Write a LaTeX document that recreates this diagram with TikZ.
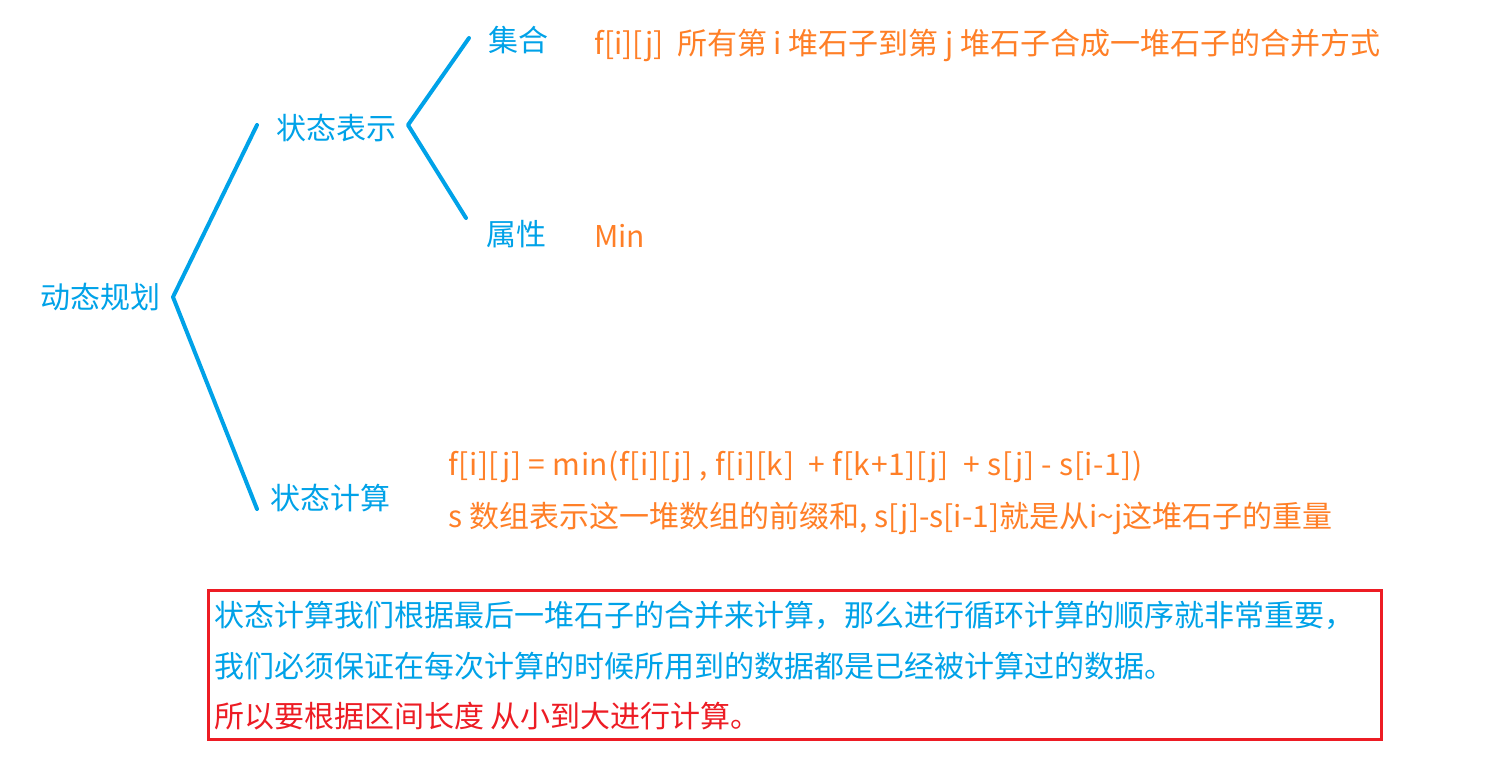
\documentclass[tikz,border=0pt]{standalone}
\usepackage{fontspec}
\setmainfont{Noto Sans CJK SC}
\definecolor{myblue}{RGB}{0,162,232}
\definecolor{myorange}{RGB}{255,127,39}
\definecolor{myred}{RGB}{237,28,36}
\begin{document}
\begin{tikzpicture}[x=0.75pt,y=-0.75pt,
  lbl/.style={anchor=west, inner sep=0pt, text=myblue, font=\fontsize{22.5}{27}\selectfont},
  note/.style={lbl, text=myorange},
  redtxt/.style={lbl, text=myred},
  br/.style={draw=myblue, line width=3pt, line join=round, line cap=round}]
\useasboundingbox (0,0) rectangle (1489,758);
% labels
\node[lbl] (dp) at (40,297) {动态规划};
\node[lbl] (zt) at (276,128) {状态表示};
\node[lbl] (jh) at (488,40) {集合};
\node[lbl] (sx) at (486,234) {属性};
\node[lbl] (js) at (270,498) {状态计算};
\node[note] (jhd) at (594,45) {f[i][j]\ \ 所有第 i 堆石子到第 j 堆石子合成一堆石子的合并方式};
\node[note] (mn) at (594,236) {Min};
\node[note, font=\fontsize{22.5}{27}\selectfont\addfontfeature{LetterSpace=2}] (eq) at (448,467) {f[i][j] = min(f[i][j] , f[i][k] \ + f[k+1][j] \ + s[j] - s[i-1])};
\node[note] (sd) at (448,518) {s 数组表示这一堆数组的前缀和, s[j]-s[i-1]就是从i\textasciitilde j这堆石子的重量};
% brackets
\coordinate (a1) at (257,125);
\coordinate (v1) at (173,297);
\coordinate (a2) at (257,509);
\draw[br] (a1) -- (v1) -- (a2);
\coordinate (b1) at (469,38);
\coordinate (v2) at (408,125);
\coordinate (b2) at (466,218);
\draw[br] (b1) -- (v2) -- (b2);
% box
\node[draw=myred, line width=2.6pt, minimum width=880pt, minimum height=112pt, inner sep=0pt] (box) at (795,665) {};
\node[lbl] (l1) at (214,615) {状态计算我们根据最后一堆石子的合并来计算，那么进行循环计算的顺序就非常重要，};
\node[lbl] (l2) at (214,666) {我们必须保证在每次计算的时候所用到的数据都是已经被计算过的数据。};
\node[redtxt] (l3) at (214,716) {所以要根据区间长度 从小到大进行计算。};
\end{tikzpicture}
\end{document}
